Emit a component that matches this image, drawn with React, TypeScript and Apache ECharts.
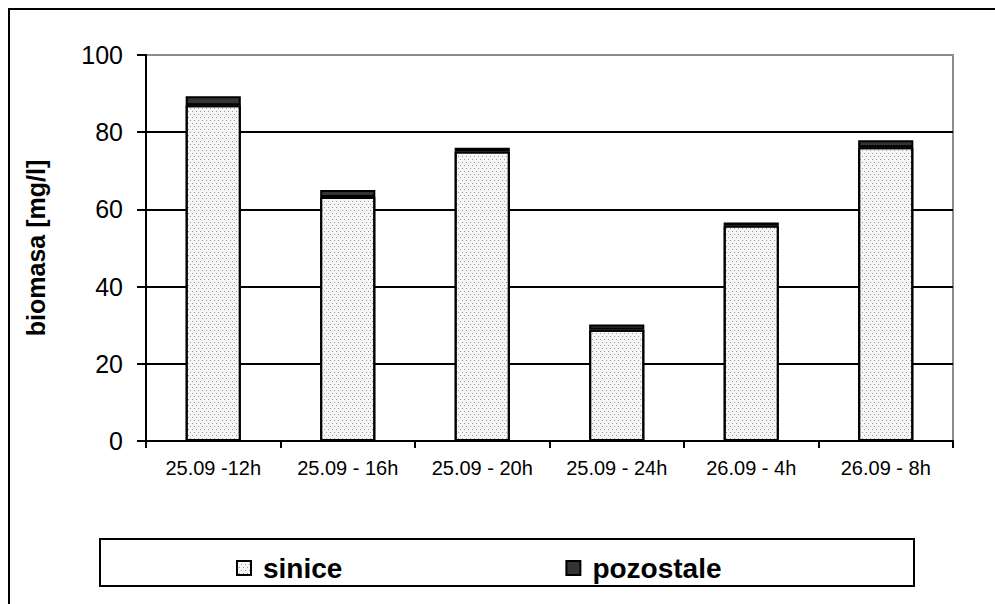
import React, { useEffect, useRef } from "react";
import * as echarts from "echarts";

const categories = ["25.09 -12h", "25.09 - 16h", "25.09 - 20h", "25.09 - 24h", "26.09 - 4h", "26.09 - 8h"];
const sinice = [87.0, 63.2, 75.0, 28.8, 55.8, 76.1];
const pozostale = [2.3, 1.8, 1.0, 1.4, 0.8, 1.8];
const yTicks = [0, 20, 40, 60, 80, 100];

const FONT = "'Liberation Sans', Arial, sans-serif";

export default function App() {
  const ref = useRef<HTMLDivElement>(null);

  useEffect(() => {
    if (!ref.current) return;
    const chart = echarts.init(ref.current, null, { renderer: "svg" });
    chart.setOption({
      animation: false,
      backgroundColor: "#fff",
      textStyle: { fontFamily: FONT },
      grid: {
        left: 146,
        right: 42,
        top: 55,
        bottom: 163,
        show: true,
        borderColor: "#8c8c8c",
        borderWidth: 2,
        backgroundColor: "transparent",
      },
      legend: {
        left: 231,
        top: 549,
        itemGap: 223,
        itemWidth: 14,
        itemHeight: 14,
        icon: "rect",
        textStyle: { fontFamily: FONT, fontSize: 28, fontWeight: "bold", color: "#000", padding: [0, 0, 0, 7] },
        data: ["sinice", "pozostale"],
      },
      xAxis: {
        type: "category",
        data: categories,
        axisLine: { lineStyle: { color: "#000", width: 2 } },
        axisTick: { show: true, alignWithLabel: false, length: 7, lineStyle: { color: "#000", width: 2 } },
        axisLabel: { color: "#000", fontSize: 20, margin: 17, fontFamily: FONT, interval: 0 },
      },
      yAxis: {
        type: "value",
        min: 0,
        max: 100,
        interval: 20,
        name: "biomasa [mg/l]",
        nameLocation: "middle",
        nameGap: 98,
        nameTextStyle: { color: "#000", fontSize: 25, fontWeight: "bold", fontFamily: FONT },
        axisLine: { show: true, lineStyle: { color: "#000", width: 2 } },
        axisTick: { show: true, length: 9, lineStyle: { color: "#000", width: 2 } },
        axisLabel: {
          color: "#000",
          fontSize: 25,
          margin: 23,
          fontFamily: FONT,
          formatter: (v: number) => (yTicks.includes(v) ? String(v) : ""),
        },
        splitLine: {
          show: true,
          lineStyle: { color: ["#000", "#000", "#000", "#000", "#000", "#8c8c8c"], width: 2 },
        },
      },
      series: [
        {
          name: "sinice",
          type: "bar",
          stack: "total",
          data: sinice,
          barWidth: "41%",
          itemStyle: {
            color: "#f6f6f6",
            borderColor: "#000",
            borderWidth: 2,
            decal: {
              symbol: "rect",
              symbolSize: 1,
              color: "#9a9a9a",
              dashArrayX: [
                [1, 3],
                [0, 2, 1, 1],
              ],
              dashArrayY: [1, 2],
              rotation: 0,
            },
          },
        },
        {
          name: "pozostale",
          type: "bar",
          stack: "total",
          data: pozostale,
          barWidth: "41%",
          itemStyle: { color: "#333333", borderColor: "#000", borderWidth: 2 },
        },
      ],
      graphic: [
        {
          type: "rect",
          shape: { x: 9, y: 9, width: 1000, height: 700 },
          style: { fill: "none", stroke: "#000", lineWidth: 2 },
          silent: true,
          z: 100,
        },
        {
          type: "rect",
          shape: { x: 100, y: 539, width: 814, height: 47 },
          style: { fill: "none", stroke: "#000", lineWidth: 2 },
          silent: true,
          z: 100,
        },
      ],
    });
    return () => chart.dispose();
  }, []);

  return (
    <div
      ref={ref}
      style={{ width: 995, height: 604, position: "absolute", left: 0, top: 0 }}
    />
  );
}
